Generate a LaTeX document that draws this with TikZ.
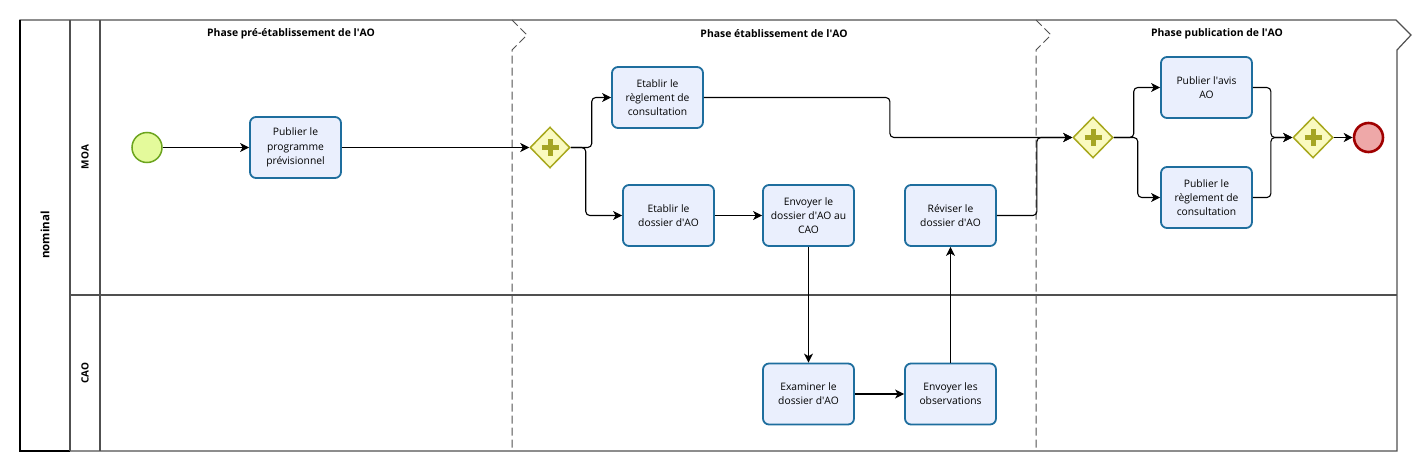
\documentclass[tikz,border=0pt]{standalone}
\usepackage{fontspec}
\setmainfont{Open Sans}
\usetikzlibrary{shapes.geometric,arrows.meta,calc}
\definecolor{taskfill}{RGB}{234,239,253}
\definecolor{taskdraw}{RGB}{30,110,158}
\definecolor{startfill}{RGB}{228,250,155}
\definecolor{startdraw}{RGB}{108,164,30}
\definecolor{endfill}{RGB}{238,168,168}
\definecolor{enddraw}{RGB}{160,0,0}
\definecolor{gwfill}{RGB}{250,250,192}
\definecolor{gwdraw}{RGB}{168,168,30}
\definecolor{gwplus}{RGB}{165,165,35}
\definecolor{poolline}{RGB}{80,80,80}
\newcommand{\ap}{\textquotesingle}
\begin{document}
\begin{tikzpicture}[x=1pt,y=-1pt,
  task/.style={draw=taskdraw, fill=taskfill, line width=1.8pt, rounded corners=6pt,
    minimum width=91pt, minimum height=61pt, align=center, inner sep=1pt,
    font=\fontsize{10.3}{14.2}\selectfont},
  gateway/.style={diamond, aspect=1, draw=gwdraw, fill=gwfill, line width=1.5pt,
    minimum width=40pt, minimum height=41pt, inner sep=0pt,
    path picture={\draw[gwplus, line width=5pt]
      ($(path picture bounding box.center)+(-8.5,0)$) -- ($(path picture bounding box.center)+(8.5,0)$)
      ($(path picture bounding box.center)+(0,-8.5)$) -- ($(path picture bounding box.center)+(0,8.5)$);}},
  startev/.style={circle, draw=startdraw, fill=startfill, line width=1.5pt, minimum size=30pt, inner sep=0pt},
  endev/.style={circle, draw=enddraw, fill=endfill, line width=2.6pt, minimum size=29pt, inner sep=0pt},
  flow/.style={draw=black, line width=1.1pt, rounded corners=4pt,
    -{Stealth[length=9pt, width=9pt, inset=2.5pt]}},
  pool/.style={draw=poolline, line width=1.2pt},
  phasediv/.style={draw=poolline, line width=1pt, dash pattern=on 8pt off 4pt},
  title/.style={font=\bfseries\fontsize{10.4}{12}\selectfont},
  lanelabel/.style={font=\bfseries\fontsize{10}{12}\selectfont, rotate=90}
]
\useasboundingbox (0,0) rectangle (1416,471);
% pool frame
\draw[pool] (20,20) -- (1396,20) -- (1411,35) -- (1397,50) -- (1397,451) -- (20,451) -- cycle;
\draw[draw=black, line width=1.2pt] (20,20) -- (20,451) -- (70,451);
\draw[pool] (70,20) -- (70,451);
\draw[pool] (100,20) -- (100,451);
\draw[pool] (70,295) -- (1397,295);
\draw[phasediv] (512,20) -- (527,35) -- (512,50) -- (512,451);
\draw[phasediv] (1036,20) -- (1051,35) -- (1036,50) -- (1036,451);
% labels
\node[lanelabel, font=\bfseries\fontsize{11.5}{13}\selectfont] (pooltitle) at (45,235) {nominal};
\node[lanelabel] (moa) at (85,157) {MOA};
\node[lanelabel] (cao) at (85,373) {CAO};
\node[title] (ph1) at (291,34) {Phase pré-établissement de l\ap AO};
\node[title] (ph2) at (774,34) {Phase établissement de l\ap AO};
\node[title] (ph3) at (1217,34) {Phase publication de l\ap AO};
% nodes
\node[startev] (se) at (147,147.5) {};
\node[task] (t1) at (295.5,147.5) {Publier le\\programme\\prévisionnel};
\node[gateway] (g1) at (550,147.5) {};
\node[task] (t2) at (657.5,97.5) {Etablir le\\règlement de\\consultation};
\node[task] (t3) at (668.5,215.5) {Etablir le\\dossier d\ap AO};
\node[task] (t4) at (808.5,215.5) {Envoyer le\\dossier d\ap AO au\\CAO};
\node[task] (t5) at (950.5,215.5) {Réviser le\\dossier d\ap AO};
\node[task] (t6) at (808.5,394) {Examiner le\\dossier d\ap AO};
\node[task] (t7) at (950.5,394) {Envoyer les\\observations};
\node[gateway] (g2) at (1093,137.5) {};
\node[task] (t8) at (1206.5,87.5) {Publier l\ap avis\\AO};
\node[task] (t9) at (1206.5,197.5) {Publier le\\règlement de\\consultation};
\node[gateway] (g3) at (1313,137.5) {};
\node[endev] (ee) at (1368.5,137.5) {};
% flows
\draw[flow] (se) -- (t1);
\draw[flow] (t1) -- (g1);
\draw[flow] (g1.east) -- ++(21,0) |- (t2.west);
\draw[flow] (g1.east) -- ++(15,0) |- (t3.west);
\draw[flow] (t2.east) -- ++(186,0) |- (g2.west);
\draw[flow] (t3) -- (t4);
\draw[flow] (t4) -- (t6);
\draw[flow] (t6) -- (t7);
\draw[flow] (t7) -- (t5);
\draw[flow] (t5.east) -- ++(40,0) |- (g2.west);
\draw[flow] (g2.east) -- ++(20,0) |- (t8.west);
\draw[flow] (g2.east) -- ++(24,0) |- (t9.west);
\draw[flow] (t8.east) -- ++(18,0) |- (g3.west);
\draw[flow] (t9.east) -- ++(18,0) |- (g3.west);
\draw[flow] (g3) -- (ee);
\end{tikzpicture}
\end{document}
